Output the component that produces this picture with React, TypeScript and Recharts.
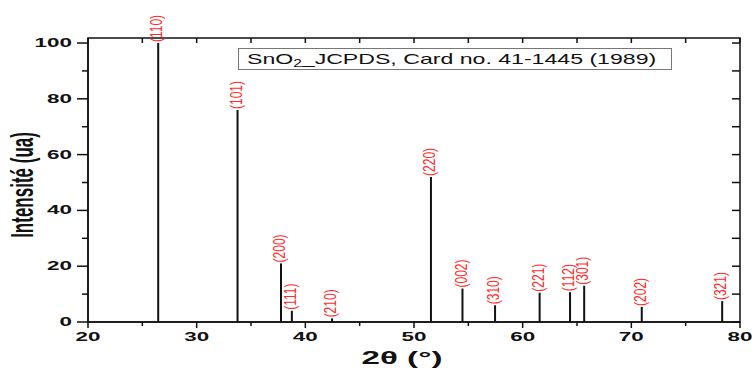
import { ComposedChart, Bar, XAxis, YAxis, LabelList, Label, Legend } from 'recharts';

// SnO2 reference pattern
const angles = [26.5, 33.8, 37.8, 38.8, 42.5, 51.6, 54.5, 57.5, 61.6, 64.4, 65.7, 71.0, 78.4];
const intensities = [100, 76, 21, 4, 1.3, 52, 12, 6, 10.5, 10.7, 13, 5.4, 7.5];
const planes = ['(110)', '(101)', '(200)', '(111)', '(210)', '(220)', '(002)', '(310)', '(221)', '(112)', '(301)', '(202)', '(321)'];

const xTicks = [20, 25, 30, 35, 40, 45, 50, 55, 60, 65, 70, 75, 80];
const yTicks = [0, 10, 20, 30, 40, 50, 60, 70, 80, 90, 100];

const X_MIN = 20;
const X_MAX = 80;
const Y_MAX = 101.8;

const data = angles.map((a, i) => ({ angle: a, intensity: intensities[i], plane: planes[i] }));

// layout
const CHART_W = 755;
const CHART_H = 368;
const MARGIN = { top: 38, right: 15, bottom: 16, left: 0 };
const Y_AXIS_W = 88;
const PLOT_TOP = MARGIN.top;
const PLOT_RIGHT = CHART_W - MARGIN.right;

const FONT = 'Liberation Sans, Arial, sans-serif';
const INK = '#111111';
const AXIS = { stroke: INK, strokeWidth: 1.5 };

const XTick = (props: any) => {
  const { x, y, payload } = props;
  const v = payload.value;
  const major = v % 10 === 0;
  return (
    <g>
      <path d={`M${x},${PLOT_TOP}V${PLOT_TOP + 5}`} stroke={INK} strokeWidth={1.5} fill="none" />
      <path d={`M${x},${y}V${y + (major ? 6 : 4)}`} stroke={INK} strokeWidth={1.5} fill="none" />
      {major && (
        <text
          transform={`translate(${x},${y + 19}) scale(1.87,1)`}
          textAnchor="middle"
          fontSize={12}
          fontWeight="bold"
          fontFamily={FONT}
          fill={INK}
        >
          {v}
        </text>
      )}
    </g>
  );
};

const YTick = (props: any) => {
  const { x, y, payload } = props;
  const v = payload.value;
  const major = v % 20 === 0;
  return (
    <g>
      <path d={`M${PLOT_RIGHT - 8},${y}H${PLOT_RIGHT}`} stroke={INK} strokeWidth={1.5} fill="none" />
      <path d={`M${x - (major ? 11 : 6)},${y}H${x}`} stroke={INK} strokeWidth={1.5} fill="none" />
      {major && (
        <text
          transform={`translate(${x - 16},${y + 4}) scale(1.87,1)`}
          textAnchor="end"
          fontSize={12}
          fontWeight="bold"
          fontFamily={FONT}
          fill={INK}
        >
          {v}
        </text>
      )}
    </g>
  );
};

const PlaneLabel = (props: any) => {
  const { x, y, width, value } = props;
  const cx = x + width / 2;
  return (
    <text
      transform={`translate(${cx + 4.2},${y - 1}) scale(1.35,1) rotate(-90)`}
      fill="#ff2a2a"
      fontSize={12}
      fontFamily={FONT}
    >
      {value}
    </text>
  );
};

const XTitle = (props: any) => {
  const { viewBox } = props;
  const cx = viewBox.x + viewBox.width / 2 - 12;
  return (
    <text
      transform={`translate(${cx},364) scale(1.84,1)`}
      textAnchor="middle"
      fontSize={18}
      fontWeight="bold"
      fontFamily={FONT}
      fill={INK}
    >
      2θ (°)
    </text>
  );
};

// y title, plus the plot frame (box round the plot area of the y axis viewBox)
const YTitle = (props: any) => {
  const { viewBox } = props;
  const top = viewBox.y;
  const h = viewBox.height;
  const left = viewBox.x + viewBox.width;
  const cy = top + h / 2 + 5;
  return (
    <g>
      <rect x={left} y={top} width={PLOT_RIGHT - left} height={h} fill="none" stroke={INK} strokeWidth={1.5} />
      <text
        transform={`translate(33,${cy}) scale(1.85,1) rotate(-90)`}
        textAnchor="middle"
        fontSize={17}
        fontWeight="bold"
        fontFamily={FONT}
        fill={INK}
      >
        Intensité (ua)
      </text>
    </g>
  );
};

const LegendBox = () => (
  <div
    style={{
      width: 432,
      height: 20,
      border: '1px solid #777',
      fontFamily: FONT,
      fontSize: 15,
      lineHeight: '20px',
      whiteSpace: 'nowrap',
      color: INK,
      background: '#fff',
    }}
  >
    <span style={{ display: 'inline-block', transform: 'scaleX(1.54)', transformOrigin: 'left center', marginLeft: 8 }}>
      SnO<span style={{ fontSize: 10, position: 'relative', top: 3 }}>2</span>_JCPDS, Card no. 41-1445 (1989)
    </span>
  </div>
);

export default function App() {
  return (
    <div style={{ position: 'absolute', left: 0, top: 0, width: CHART_W, height: CHART_H, background: '#fff' }}>
      <ComposedChart width={CHART_W} height={CHART_H} data={data} margin={MARGIN}>
        <XAxis
          xAxisId="b"
          dataKey="angle"
          type="number"
          domain={[X_MIN, X_MAX]}
          ticks={xTicks}
          height={30}
          axisLine={AXIS}
          tickLine={false}
          tickSize={0}
          tickMargin={0}
          tick={<XTick />}
          interval={0}
        >
          <Label content={<XTitle />} />
        </XAxis>
        <YAxis
          yAxisId="l"
          type="number"
          domain={[0, Y_MAX]}
          ticks={yTicks}
          width={Y_AXIS_W}
          axisLine={AXIS}
          tickLine={false}
          tickSize={0}
          tickMargin={0}
          tick={<YTick />}
          interval={0}
        >
          <Label content={<YTitle />} />
        </YAxis>
        <Legend
          verticalAlign="middle"
          content={<LegendBox />}
          wrapperStyle={{ left: 238, top: 48, width: 440, height: 24 }}
        />
        <Bar
          xAxisId="b"
          yAxisId="l"
          dataKey="intensity"
          barSize={2}
          fill={INK}
          isAnimationActive={false}
        >
          <LabelList dataKey="plane" content={<PlaneLabel />} />
        </Bar>
      </ComposedChart>
    </div>
  );
}
